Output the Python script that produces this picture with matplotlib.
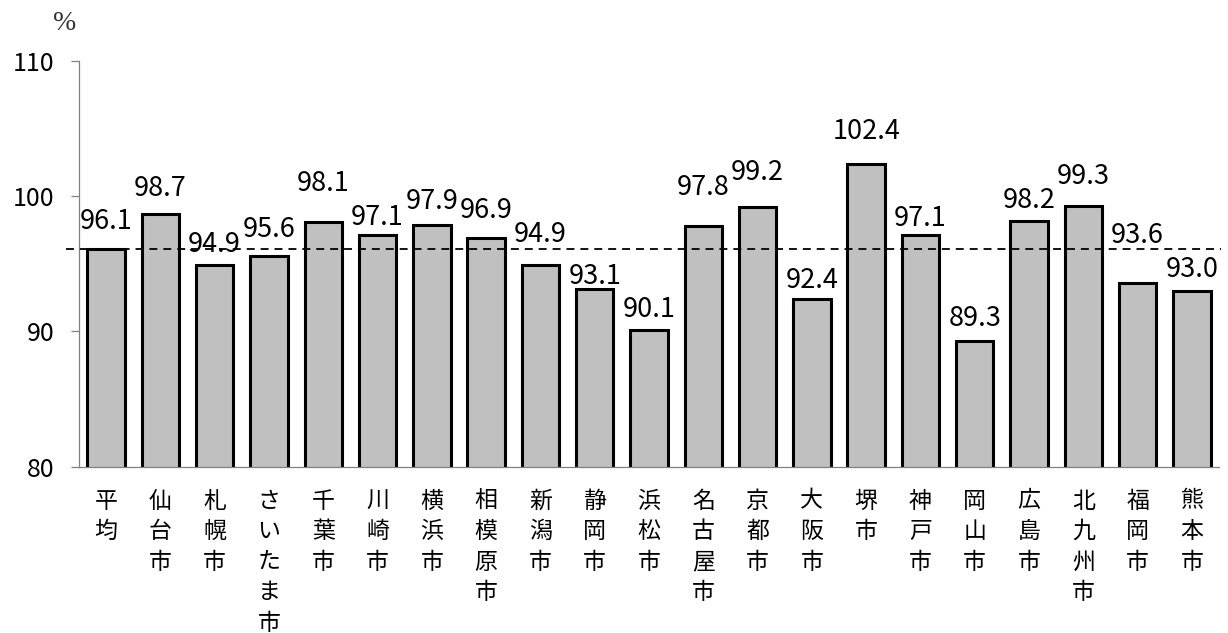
import matplotlib
matplotlib.use("Agg")
import matplotlib.pyplot as plt
import numpy as np

plt.rcParams['font.family'] = ['Noto Sans CJK JP', 'DejaVu Sans']

# Cities and their index values (%)
cities = ['平均', '仙台市', '札幌市', 'さいたま市', '千葉市', '川崎市', '横浜市',
          '相模原市', '新潟市', '静岡市', '浜松市', '名古屋市', '京都市', '大阪市',
          '堺市', '神戸市', '岡山市', '広島市', '北九州市', '福岡市', '熊本市']
values = [96.1, 98.7, 94.9, 95.6, 98.1, 97.1, 97.9, 96.9, 94.9, 93.1, 90.1,
          97.8, 99.2, 92.4, 102.4, 97.1, 89.3, 98.2, 99.3, 93.6, 93.0]
average = values[0]

y_ticks = [80, 90, 100, 110]

# how far each value label sits above its bar (pixels, label centre)
label_lift = [30, 28, 23, 29, 41, 20, 26, 30, 33, 15, 23,
              41, 37, 21, 35, 19, 25, 23, 32, 50, 24]

DPI = 100
fig = plt.figure(figsize=(12.28, 6.33), dpi=DPI)
ax = fig.add_axes([0.0643, 0.2630, 0.9284, 0.6406])

x = np.arange(len(cities))
ax.bar(x, values, width=0.69, bottom=0, color='#c0c0c0',
       edgecolor='black', linewidth=2.2, zorder=2)

# average reference line
ax.axhline(average, xmin=-0.0114, xmax=1.002, color='black', linewidth=1.3,
           linestyle=(0, (4.4, 3.3)), clip_on=False, zorder=3)

ax.set_xlim(-0.5, len(cities) - 0.5)
ax.set_ylim(80, 110)
ax.set_yticks(y_ticks)
ax.set_yticklabels([str(t) for t in y_ticks], fontsize=18)
ax.set_xticks([])

for side in ['top', 'right']:
    ax.spines[side].set_visible(False)
for side in ['left', 'bottom']:
    ax.spines[side].set_color('#808080')
    ax.spines[side].set_linewidth(0.9)
ax.tick_params(axis='y', direction='out', length=5.8, width=0.9,
               color='#808080', pad=12, labelcolor='black')

# value labels above the bars
for xi, v, lift in zip(x, values, label_lift):
    ax.annotate(f'{v:.1f}', xy=(xi, v), xytext=(0, lift - 10),
                textcoords='offset pixels', ha='center', va='baseline',
                fontsize=19.5, color='black', annotation_clip=False, zorder=4)

# vertical category labels, one character per line
char_pitch = 30.5
first_top = 23
for xi, name in zip(x, cities):
    for j, ch in enumerate(name):
        ax.annotate(ch, xy=(xi, 80), xytext=(0, -(first_top + j * char_pitch)),
                    textcoords='offset pixels', ha='center', va='top',
                    fontsize=16.5, color='black', annotation_clip=False)

fig.text(65 / 1228, 1 - 23 / 633, '%', ha='center', va='center',
         fontsize=20, family='Liberation Serif', color='#333333')

fig.savefig('out.png', dpi=DPI)
